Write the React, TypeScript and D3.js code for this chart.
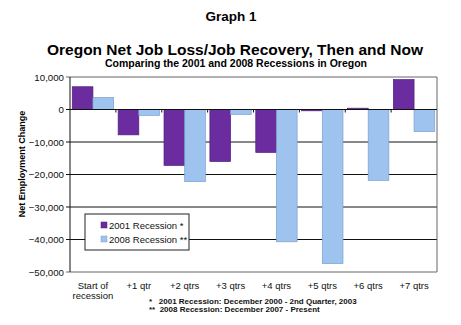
import React from "react";
import * as d3 from "d3";

const categories = ["Start of\nrecession", "+1 qtr", "+2 qtrs", "+3 qtrs", "+4 qtrs", "+5 qtrs", "+6 qtrs", "+7 qtrs"];
const rec2001 = [7000, -7800, -17200, -16000, -13200, -400, 400, 9200];
const rec2008 = [3700, -1800, -22200, -1500, -40700, -47400, -21800, -6800];
const yTicks = [10000, 0, -10000, -20000, -30000, -40000, -50000];
const seriesNames = ["2001 Recession *", "2008 Recession **"];
const footnotes = ["*   2001 Recession: December 2000 - 2nd Quarter, 2003", "**  2008 Recession: December 2007 - Present"];

const W = 461, H = 325;
const m = { left: 70, right: 437, top: 77, bottom: 272 };
const colors = ["#6a2c9e", "#9dc3ee"];
const strokes = ["#4e1f7a", "#7d9fcc"];
const font = "'Liberation Sans', Arial, sans-serif";

export default function App() {
  const x = d3.scaleBand<number>().domain(d3.range(categories.length)).range([m.left, m.right]).paddingInner(0).paddingOuter(0);
  const inner = d3.scaleBand<number>().domain([0, 1]).range([0, x.bandwidth()]).paddingOuter(0.11).paddingInner(0);
  const y = d3.scaleLinear().domain([-50000, 10000]).range([m.bottom, m.top]);
  const fmt = d3.format(",");
  const series = [rec2001, rec2008];
  return (
    <svg width={W} height={H} style={{ position: "absolute", left: 0, top: 0, background: "#fff" }} fontFamily={font}>
      <rect x={0} y={0} width={W} height={H} fill="#fff" />
      <text x={231} y={21} textAnchor="middle" fontSize={13.5} fontWeight="bold">Graph 1</text>
      <text x={235} y={55} textAnchor="middle" fontSize={15.5} fontWeight="bold">Oregon Net Job Loss/Job Recovery, Then and Now</text>
      <text x={236} y={67} textAnchor="middle" fontSize={10.5} fontWeight="bold">Comparing the 2001 and 2008 Recessions in Oregon</text>
      {/* gridlines */}
      {yTicks.map((t) => (
        <line key={t} x1={m.left - 4} x2={m.right} y1={y(t)} y2={y(t)} stroke={t === 10000 || t === -50000 ? "#666" : "#111"} strokeWidth={1} />
      ))}
      {/* frame */}
      <line x1={m.right} x2={m.right} y1={m.top} y2={m.bottom} stroke="#666" />
      <line x1={m.left} x2={m.left} y1={m.top} y2={m.bottom} stroke="#111" />
      {/* bars */}
      {series.map((s, si) =>
        s.map((v, i) => {
          const bx = (x(i) as number) + (inner(si) as number);
          const y0 = y(0), y1 = y(v);
          return (
            <rect key={`${si}-${i}`} x={bx} width={inner.bandwidth()} y={Math.min(y0, y1)} height={Math.abs(y1 - y0)}
              fill={colors[si]} stroke={strokes[si]} strokeWidth={0.7} />
          );
        })
      )}
      {/* zero axis with category ticks */}
      <line x1={m.left} x2={m.right} y1={y(0)} y2={y(0)} stroke="#111" />
      {d3.range(1, categories.length).map((i) => (
        <line key={i} x1={x(i)} x2={x(i)} y1={y(0)} y2={y(0) + 3} stroke="#111" />
      ))}
      {/* y tick labels */}
      {yTicks.map((t) => (
        <text key={t} x={m.left - 6} y={y(t) + 3.5} textAnchor="end" fontSize={9.7} fill="#111">{fmt(t)}</text>
      ))}
      <text transform={`translate(25,164) rotate(-90)`} textAnchor="middle" fontSize={9} fontWeight="bold">Net Employment Change</text>
      {/* category labels */}
      {categories.map((c, i) => (
        <text key={i} x={(x(i) as number) + x.bandwidth() / 2} y={289} textAnchor="middle" fontSize={9.5} fill="#111">
          {c.split("\n").map((l, j) => (
            <tspan key={j} x={(x(i) as number) + x.bandwidth() / 2} dy={j === 0 ? 0 : 9.5}>{l}</tspan>
          ))}
        </text>
      ))}
      {/* legend */}
      <rect x={85} y={214} width={104} height={36} fill="#fff" stroke="#222" strokeWidth={1} />
      {seriesNames.map((n, i) => (
        <g key={n}>
          <rect x={101} y={222 + i * 14} width={6} height={6} fill={colors[i]} stroke={strokes[i]} strokeWidth={0.5} />
          <text x={109} y={228.5 + i * 14} fontSize={9.5} fill="#111">{n}</text>
        </g>
      ))}
      {/* footnotes */}
      {footnotes.map((f, i) => (
        <text key={i} x={149} y={304 + i * 8} fontSize={8} fontWeight="bold" fill="#111" style={{ whiteSpace: "pre" }}>{f}</text>
      ))}
    </svg>
  );
}
